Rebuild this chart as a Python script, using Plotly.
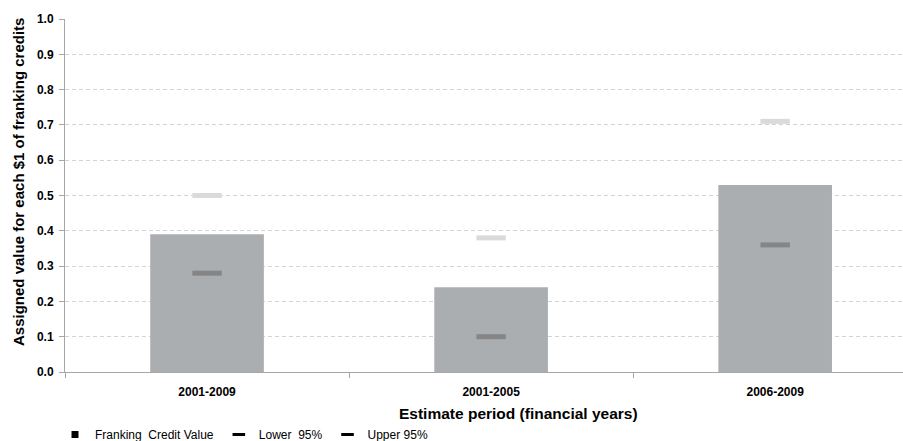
import plotly.graph_objects as go

# Estimated value of franking credits by estimation window
periods = ["2001-2009", "2001-2005", "2006-2009"]
credit_value = [0.39, 0.24, 0.53]
lower_95 = [0.28, 0.10, 0.36]
upper_95 = [0.50, 0.38, 0.71]
y_ticks = [0.0, 0.1, 0.2, 0.3, 0.4, 0.5, 0.6, 0.7, 0.8, 0.9, 1.0]

FONT = "Liberation Sans, Arial, sans-serif"
BAR = "#abaeb1"
LOWER = "#858585"
UPPER = "#dadada"

fig = go.Figure()

fig.add_trace(go.Bar(
    x=periods, y=credit_value, name="Franking  Credit Value",
    marker=dict(color=BAR, line=dict(width=0)), width=0.4,
    showlegend=False,
))
fig.add_trace(go.Scatter(
    x=periods, y=lower_95, mode="markers", name="Lower  95%",
    marker=dict(symbol="line-ew", size=21, line=dict(color=LOWER, width=5)),
    showlegend=False,
))
fig.add_trace(go.Scatter(
    x=periods, y=upper_95, mode="markers", name="Upper 95%",
    marker=dict(symbol="line-ew", size=21, line=dict(color=UPPER, width=5)),
    showlegend=False,
))

# Legend keys (black swatches, as in the printed report)
fig.add_trace(go.Scatter(
    x=[None], y=[None], mode="markers", name="Franking  Credit Value",
    marker=dict(symbol="square", size=7, color="#000000"),
))
fig.add_trace(go.Scatter(
    x=[None], y=[None], mode="markers", name="Lower  95%",
    marker=dict(symbol="line-ew", size=9, line=dict(color="#000000", width=3)),
))
fig.add_trace(go.Scatter(
    x=[None], y=[None], mode="markers", name="Upper 95%",
    marker=dict(symbol="line-ew", size=9, line=dict(color="#000000", width=3)),
))

W, H = 903, 441
L, R, T, B = 65, 0, 19, 69
pw, ph = W - L - R, H - T - B

def px_x(p):
    return (p - L) / pw

def px_y(p):
    return (H - B - p) / ph

fig.update_layout(
    width=W, height=H,
    margin=dict(l=L, r=R, t=T, b=B, autoexpand=False),
    paper_bgcolor="white", plot_bgcolor="white",
    font=dict(family=FONT, color="#000000"),
    showlegend=True,
    legend=dict(
        orientation="h", x=px_x(55), y=px_y(434.5), xanchor="left", yanchor="middle",
        font=dict(size=12, color="#000000"), itemwidth=30,
        bgcolor="rgba(0,0,0,0)", borderwidth=0,
    ),
    xaxis=dict(
        type="category", range=[-0.5, 2.45],
        showgrid=False, zeroline=False,
        showline=True, linecolor="#a6a6a6", linewidth=1,
        ticks="outside", tickson="boundaries", ticklen=5, tickcolor="#a6a6a6",
        tickfont=dict(size=12, family=FONT, color="#000000", weight="bold"),
        ticklabelstandoff=9,
    ),
    yaxis=dict(
        range=[0, 1], tickvals=y_ticks, tickformat=".1f",
        showgrid=True, gridcolor="#d3d3d3", gridwidth=1, griddash="4px,3px",
        zeroline=False,
        showline=True, linecolor="#a6a6a6", linewidth=1,
        ticks="outside", ticklen=5, tickcolor="#a6a6a6",
        tickfont=dict(size=12, family=FONT, color="#000000", weight="bold"),
        ticklabelstandoff=3,
    ),
    annotations=[
        dict(
            text="Estimate period (financial years)", xref="paper", yref="paper",
            x=px_x(518), y=px_y(413), xanchor="center", yanchor="middle",
            showarrow=False, font=dict(size=15.5, family=FONT, color="#000000", weight="bold"),
        ),
        dict(
            text="Assigned value for each $1 of franking credits", xref="paper", yref="paper",
            x=px_x(18), y=px_y(182), xanchor="center", yanchor="middle", textangle=-90,
            showarrow=False, font=dict(size=15, family=FONT, color="#000000", weight="bold"),
        ),
    ],
)

fig.write_html("out.html")
